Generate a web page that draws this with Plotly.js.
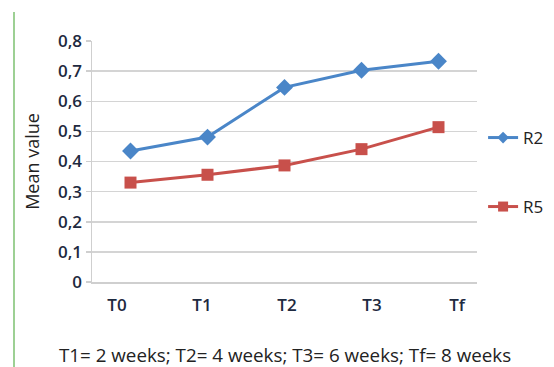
<!DOCTYPE html>
<html><head><meta charset="utf-8">
<script src="https://cdn.plot.ly/plotly-3.0.1.min.js"></script>
<style>html,body{margin:0;padding:0;background:#fff}#c{width:554px;height:367px}</style>
</head><body><div id="c"></div>
<script>
const categories = ["T0", "T1", "T2", "T3", "Tf"];
const r2Values = [0.435, 0.481, 0.646, 0.703, 0.733];
const r5Values = [0.330, 0.356, 0.387, 0.441, 0.514];
const seriesNames = ["R2", "R5"];
const yTicks = [0, 0.1, 0.2, 0.3, 0.4, 0.5, 0.6, 0.7, 0.8];
const caption = "T1= 2 weeks; T2= 4 weeks; T3= 6 weeks; Tf= 8 weeks";

const FONT = "'Open Sans', Lato, sans-serif";
const BLUE = "#4a86c8", RED = "#c8504b";
const traces = [
  {x: categories, y: r2Values, name: seriesNames[0], type: "scatter", mode: "lines+markers", showlegend: false,
   line: {color: BLUE, width: 3}, marker: {symbol: "diamond", size: 13, color: BLUE}},
  {x: categories, y: r5Values, name: seriesNames[1], type: "scatter", mode: "lines+markers", showlegend: false,
   line: {color: RED, width: 3}, marker: {symbol: "square", size: 12, color: RED}},
  // legend entries (smaller symbols, as in the reference legend)
  {x: [null], y: [null], name: seriesNames[0], type: "scatter", mode: "lines+markers", legend: "legend",
   line: {color: BLUE, width: 3}, marker: {symbol: "diamond", size: 9, color: BLUE}},
  {x: [null], y: [null], name: seriesNames[1], type: "scatter", mode: "lines+markers", legend: "legend2",
   line: {color: RED, width: 3}, marker: {symbol: "square", size: 10, color: RED}},
  // carrier for the category label axis
  {x: [0, 1, 2, 3, 4], y: [null, null, null, null, null], xaxis: "x2", type: "scatter", mode: "markers",
   showlegend: false, hoverinfo: "skip"}
];
const legendBase = {xref: "container", yref: "container", x: 0.872, xanchor: "left", yanchor: "middle",
  bgcolor: "rgba(0,0,0,0)", font: {family: FONT, size: 17, color: "#222"}};
const tickFont = {family: FONT, size: 17, color: "#1e2a40", weight: 600};
const layout = {
  width: 554, height: 367,
  margin: {l: 92, r: 77, t: 41, b: 85, autoexpand: false},
  separators: ", ",
  paper_bgcolor: "#fff", plot_bgcolor: "#fff",
  font: {family: FONT, size: 17, color: "#222"},
  showlegend: true,
  legend: Object.assign({}, legendBase, {y: 1 - 138/367}),
  legend2: Object.assign({}, legendBase, {y: 1 - 207/367}),
  xaxis: {type: "category", range: [-0.5, 4.5], showgrid: false, zeroline: false,
    showline: true, linecolor: "#cfcfcf", linewidth: 1.5, ticks: "", showticklabels: false},
  xaxis2: {overlaying: "x", side: "bottom", anchor: "y", range: [-0.294, 4.235],
    tickvals: [0, 1, 2, 3, 4], ticktext: categories, showgrid: false, zeroline: false, showline: false,
    ticks: "", tickfont: tickFont, ticklabelstandoff: 11},
  yaxis: {range: [0, 0.8], tickvals: yTicks, showgrid: true, gridcolor: "#d4d4d4", gridwidth: 1.5,
    zeroline: false, showline: true, linecolor: "#cfcfcf", linewidth: 1.5,
    ticks: "outside", ticklen: 5, tickcolor: "#cfcfcf", tickwidth: 1.5,
    tickfont: tickFont,
    title: {text: "Mean value", font: {family: FONT, size: 18, color: "#222"}, standoff: 13}},
  shapes: [{type: "line", xref: "paper", yref: "paper", x0: -78/385, x1: -78/385, y0: 1 + 29/241, y1: -85/241,
    line: {color: "#7cc070", width: 1.5}}],
  annotations: [{text: caption, xref: "paper", yref: "paper", x: 192.5/385, y: -73/241,
    xanchor: "center", yanchor: "middle", showarrow: false,
    font: {family: FONT, size: 18.8, color: "#222"}}]
};
Plotly.newPlot("c", traces, layout, {staticPlot: true, displayModeBar: false});
</script></body></html>
